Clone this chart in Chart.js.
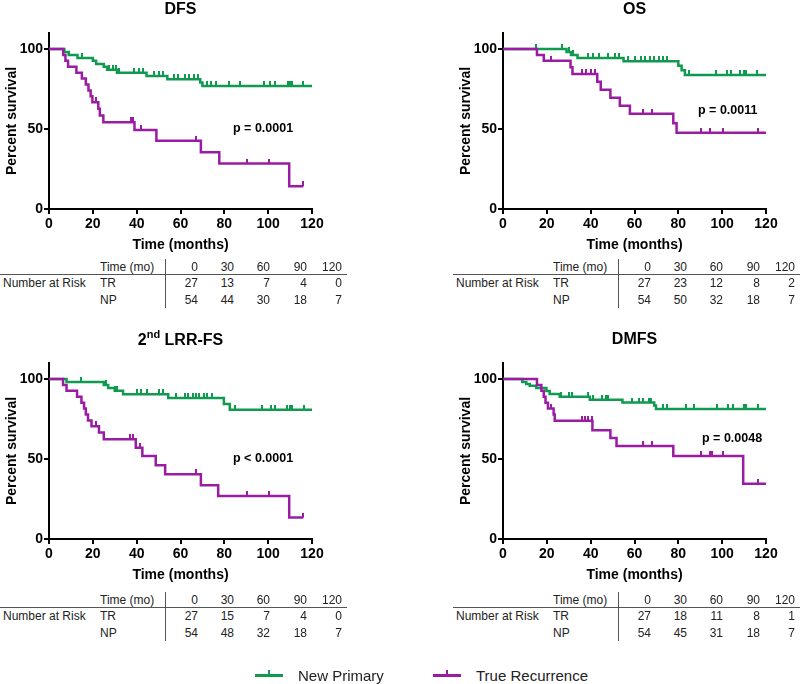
<!DOCTYPE html>
<html><head><meta charset="utf-8">
<script src="https://cdn.jsdelivr.net/npm/chart.js@4/dist/chart.umd.min.js"></script>
<style>
html,body{margin:0;padding:0;background:#fff;overflow:hidden;}
#wrap{position:relative;width:800px;height:684px;overflow:hidden;background:#fff;}
canvas{position:absolute;}
.ttl{position:absolute;font:bold 16px "Liberation Sans",Arial,sans-serif;color:#000;transform:translate(-50%,-50%);white-space:nowrap;}
.ttl sup{font-size:11px;position:relative;top:-1px;}
.pv{position:absolute;font:bold 12.5px "Liberation Sans",Arial,sans-serif;color:#000;transform:translateY(-50%);white-space:nowrap;}
.rt{position:absolute;font:12px "Liberation Sans",Arial,sans-serif;color:#222;white-space:nowrap;transform:translateY(-50%);line-height:14px;}
.rn{transform:translate(-100%,-50%);}
.ln{position:absolute;background:#555;}
.lg{position:absolute;font:15px "Liberation Sans",Arial,sans-serif;color:#222;transform:translateY(-50%);white-space:nowrap;}
</style></head>
<body><div id="wrap"></div>
<script>
// ---------- data ----------
const panelTitles = ['DFS', 'OS', '2<sup>nd</sup> LRR-FS', 'DMFS'];
const pValues = ['p = 0.0001', 'p = 0.0011', 'p < 0.0001', 'p = 0.0048'];
const seriesNames = ['New Primary', 'True Recurrence'];
const xTicks = [0, 20, 40, 60, 80, 100, 120];
const yTicks = [0, 50, 100];

// DFS
const dfsNpT = [0, 7, 9, 13, 20, 21.5, 25, 26.5, 31, 44.5, 54, 69, 70, 120];
const dfsNpS = [100, 98.1, 96.3, 94.4, 92.6, 90.7, 88.9, 87.0, 85.2, 83.2, 81.1, 79.0, 76.9, 76.9];
const dfsNpC = [15, 27.5, 29, 30.5, 32, 39, 41, 43, 48, 50, 52, 57, 59, 62, 64, 66, 68, 72, 74, 76, 82, 87, 98, 101, 103, 109, 110, 111, 116];
const dfsTrT = [0, 6.5, 7.5, 8.7, 12.5, 15, 16.8, 18, 19, 19.8, 22.5, 23.2, 24.8, 39, 49, 69.3, 77.7, 109.6, 116];
const dfsTrS = [100, 96.3, 92.6, 88.9, 85.2, 81.5, 77.8, 74.1, 70.4, 66.7, 62.6, 58.5, 54.2, 49.3, 42.6, 35.5, 28.4, 14.2, 14.2];
const dfsTrC = [21.5, 37.5, 38.5, 42, 67, 90.5, 100.5, 116];

// OS
const osNpT = [0, 29, 31, 34, 55, 80, 81.5, 83, 120];
const osNpS = [100, 98.1, 96.2, 94.3, 92.4, 89.6, 86.7, 83.8, 83.8];
const osNpC = [15, 27, 30, 32, 39, 41, 44, 48, 51, 53, 57, 60, 63, 65, 67, 69, 71, 73, 75, 85, 97, 102, 104, 108, 110, 111, 116];
const osTrT = [0, 15.5, 18.6, 30.8, 31.7, 43, 44.6, 49, 53.3, 57.9, 77.7, 79.2, 120];
const osTrS = [100, 96.3, 92.6, 88.6, 84.4, 79.5, 74.6, 69.6, 64.6, 59.6, 53.6, 47.7, 47.7];
const osTrC = [22, 36, 38, 40, 42, 64, 68, 90.5, 94.5, 100.5, 116.5];

// 2nd LRR-FS
const lrrNpT = [0, 8, 25, 27, 30, 33.8, 54.4, 79.8, 82.5, 120];
const lrrNpS = [100, 98.1, 96.3, 94.4, 92.6, 90.4, 88.1, 84.4, 80.8, 80.8];
const lrrNpC = [14.8, 26, 30, 31, 40, 42, 44.5, 50, 52, 58, 62, 63.5, 65.5, 67, 68.5, 70.5, 72, 74.5, 85, 97, 101.5, 103, 108.5, 110, 111, 116.5];
const lrrTrT = [0, 6.4, 8, 12.8, 14.8, 16, 16.8, 17.8, 19.4, 22.8, 25, 39.6, 42.6, 48.7, 53, 69.3, 77.2, 109.6, 116];
const lrrTrS = [100, 96.3, 92.6, 88.9, 85.2, 81.5, 77.8, 74.1, 70.4, 66.5, 62.3, 57.1, 51.9, 46.1, 40.4, 33.6, 26.9, 13.4, 13.4];
const lrrTrC = [21.6, 37, 38.4, 41.5, 67.3, 90.5, 100.5, 116];

// DMFS
const dmNpT = [0, 8.8, 10.6, 12.2, 15.2, 19.8, 21.3, 25.9, 39.6, 54.5, 69, 69.8, 120];
const dmNpS = [100, 98.1, 96.9, 95.8, 94.4, 92.5, 90.7, 88.9, 87.1, 85.3, 83.4, 81.3, 81.3];
const dmNpC = [26.5, 30, 31.5, 39, 41, 45, 47, 48, 59, 62, 64, 66.5, 67.5, 73, 75, 83.5, 87, 97.5, 102.5, 105, 110, 111, 116.5];
const dmTrT = [0, 15.5, 17.5, 18.6, 19.4, 20.5, 23.1, 23.6, 40.8, 49, 51.8, 77.7, 109.6, 120];
const dmTrS = [100, 96.3, 92.6, 88.9, 85.2, 81.5, 77.8, 73.9, 68.0, 63.1, 58.2, 51.9, 34.6, 34.6];
const dmTrC = [22, 36, 37.5, 39, 40.5, 64, 68, 90.5, 94.4, 95.5, 100.5, 116.5];

// Number at risk
const riskTimes = [0, 30, 60, 90, 120];
const riskGroups = ['TR', 'NP'];
const dfsRiskTR = [27, 13, 7, 4, 0], dfsRiskNP = [54, 44, 30, 18, 7];
const osRiskTR = [27, 23, 12, 8, 2], osRiskNP = [54, 50, 32, 18, 7];
const lrrRiskTR = [27, 15, 7, 4, 0], lrrRiskNP = [54, 48, 32, 18, 7];
const dmRiskTR = [27, 18, 11, 8, 1], dmRiskNP = [54, 45, 31, 18, 7];

// ---------- style ----------
const GREEN = '#0f9a50', PURPLE = '#9a1ca2';
const FONT = '"Liberation Sans", Arial, sans-serif';
const wrap = document.getElementById('wrap');

function stepVal(T, S, t) { let v = S[0]; for (let i = 0; i < T.length; i++) { if (T[i] <= t) v = S[i]; } return v; }
function tickImg(color) {
  const c = document.createElement('canvas'); c.width = 2; c.height = 10;
  const g = c.getContext('2d'); g.fillStyle = color; g.fillRect(0, 0, 2, 5); return c;
}
const tickG = tickImg(GREEN), tickP = tickImg(PURPLE);

function el(cls, html, left, top) {
  const d = document.createElement('div'); d.className = cls; d.innerHTML = html;
  d.style.left = left + 'px'; d.style.top = top + 'px'; wrap.appendChild(d); return d;
}
function line(l, t, w, h) { const d = document.createElement('div'); d.className = 'ln'; Object.assign(d.style, {left: l + 'px', top: t + 'px', width: w + 'px', height: h + 'px'}); wrap.appendChild(d); }

function panel(idx, ox, oy, npT, npS, npC, trT, trS, trC, riskTR, riskNP, pvPos) {
  const cv = document.createElement('canvas');
  cv.width = 361; cv.height = 254;
  cv.style.left = ox + 'px'; cv.style.top = oy + 'px';
  wrap.appendChild(cv);
  const curve = (T, S) => T.map((t, i) => ({x: t, y: S[i]}));
  const cens = (C, T, S) => C.map(t => ({x: t, y: stepVal(T, S, t)}));
  new Chart(cv, {
    type: 'line',
    data: {datasets: [
      {label: seriesNames[1], data: curve(trT, trS), stepped: 'before', borderColor: PURPLE, borderWidth: 2.5, pointRadius: 0, fill: false},
      {label: seriesNames[1] + ' censored', data: cens(trC, trT, trS), showLine: false, pointStyle: tickP, pointRadius: 4, borderColor: PURPLE, backgroundColor: PURPLE},
      {label: seriesNames[0], data: curve(npT, npS), stepped: 'before', borderColor: GREEN, borderWidth: 2.5, pointRadius: 0, fill: false},
      {label: seriesNames[0] + ' censored', data: cens(npC, npT, npS), showLine: false, pointStyle: tickG, pointRadius: 4, borderColor: GREEN, backgroundColor: GREEN}
    ]},
    options: {
      responsive: false, animation: false, events: [],
      layout: {padding: {left: 0, right: 49, top: 33, bottom: 0}},
      plugins: {legend: {display: false}, tooltip: {enabled: false}, title: {display: false}},
      scales: {
        x: {type: 'linear', min: 0, max: 120,
          afterFit: s => { s.height = 45; },
          ticks: {stepSize: 20, padding: 2, color: '#000', font: {family: FONT, size: 14, weight: 'bold'}, callback: v => xTicks.includes(v) ? v : ''},
          grid: {display: true, drawOnChartArea: false, drawTicks: true, tickLength: 5, color: '#000', lineWidth: 2},
          border: {display: true, color: '#000', width: 2},
          title: {display: true, text: 'Time (months)', color: '#000', font: {family: FONT, size: 14, weight: 'bold'}, padding: {top: 0, bottom: 0}}
        },
        y: {type: 'linear', min: 0, max: 110,
          afterFit: s => { s.width = 49; },
          ticks: {stepSize: 50, includeBounds: false, padding: 1, color: '#000', font: {family: FONT, size: 14, weight: 'bold'}, callback: v => yTicks.includes(v) ? v : ''},
          grid: {display: true, drawOnChartArea: false, drawTicks: true, tickLength: 5, color: '#000', lineWidth: 2},
          border: {display: true, color: '#000', width: 2},
          title: {display: true, text: 'Percent survival', color: '#000', font: {family: FONT, size: 14, weight: 'bold'}, padding: {top: 4, bottom: 0}}
        }
      }
    }
  });
  // title
  el('ttl', panelTitles[idx], ox + 180.5, oy + 9);
  // p-value
  el('pv', pValues[idx], ox + pvPos[0], oy + pvPos[1]);
  // risk table
  const ty = oy + (oy > 0 ? 3 : 0);
  const tx = ox === 0 ? 0 : ox - 1;
  line(tx, ty + 274, 347, 1);
  line(tx + 165, ty + 259, 1, 49);
  el('rt', 'Number at Risk', tx + 3, ty + 283);
  el('rt', 'Time (mo)', tx + 100, ty + 267);
  el('rt', riskGroups[0], tx + 100, ty + 283);
  el('rt', riskGroups[1], tx + 100, ty + 300);
  const rights = [198, 234, 270, 307, 342];
  riskTimes.forEach((t, i) => {
    el('rt rn', t, tx + rights[i], ty + 267);
    el('rt rn', riskTR[i], tx + rights[i], ty + 283);
    el('rt rn', riskNP[i], tx + rights[i], ty + 300);
  });
}

panel(0, 0, 0, dfsNpT, dfsNpS, dfsNpC, dfsTrT, dfsTrS, dfsTrC, dfsRiskTR, dfsRiskNP, [233, 128]);
panel(1, 454, 0, osNpT, osNpS, osNpC, osTrT, osTrS, osTrC, osRiskTR, osRiskNP, [244, 110]);
panel(2, 0, 330, lrrNpT, lrrNpS, lrrNpC, lrrTrT, lrrTrS, lrrTrC, lrrRiskTR, lrrRiskNP, [233, 128]);
panel(3, 454, 330, dmNpT, dmNpS, dmNpC, dmTrT, dmTrS, dmTrC, dmRiskTR, dmRiskNP, [248, 108]);

// legend
function legendItem(x, color, text, tx) {
  const l = document.createElement('div');
  Object.assign(l.style, {position: 'absolute', left: x + 'px', top: '674px', width: '28px', height: '3px', background: color});
  wrap.appendChild(l);
  const t = document.createElement('div');
  Object.assign(t.style, {position: 'absolute', left: (x + 13) + 'px', top: '670px', width: '2px', height: '4px', background: color});
  wrap.appendChild(t);
  el('lg', text, tx, 675);
}
legendItem(255, GREEN, seriesNames[0], 298);
legendItem(433, PURPLE, seriesNames[1], 476);
</script>
</body></html>
